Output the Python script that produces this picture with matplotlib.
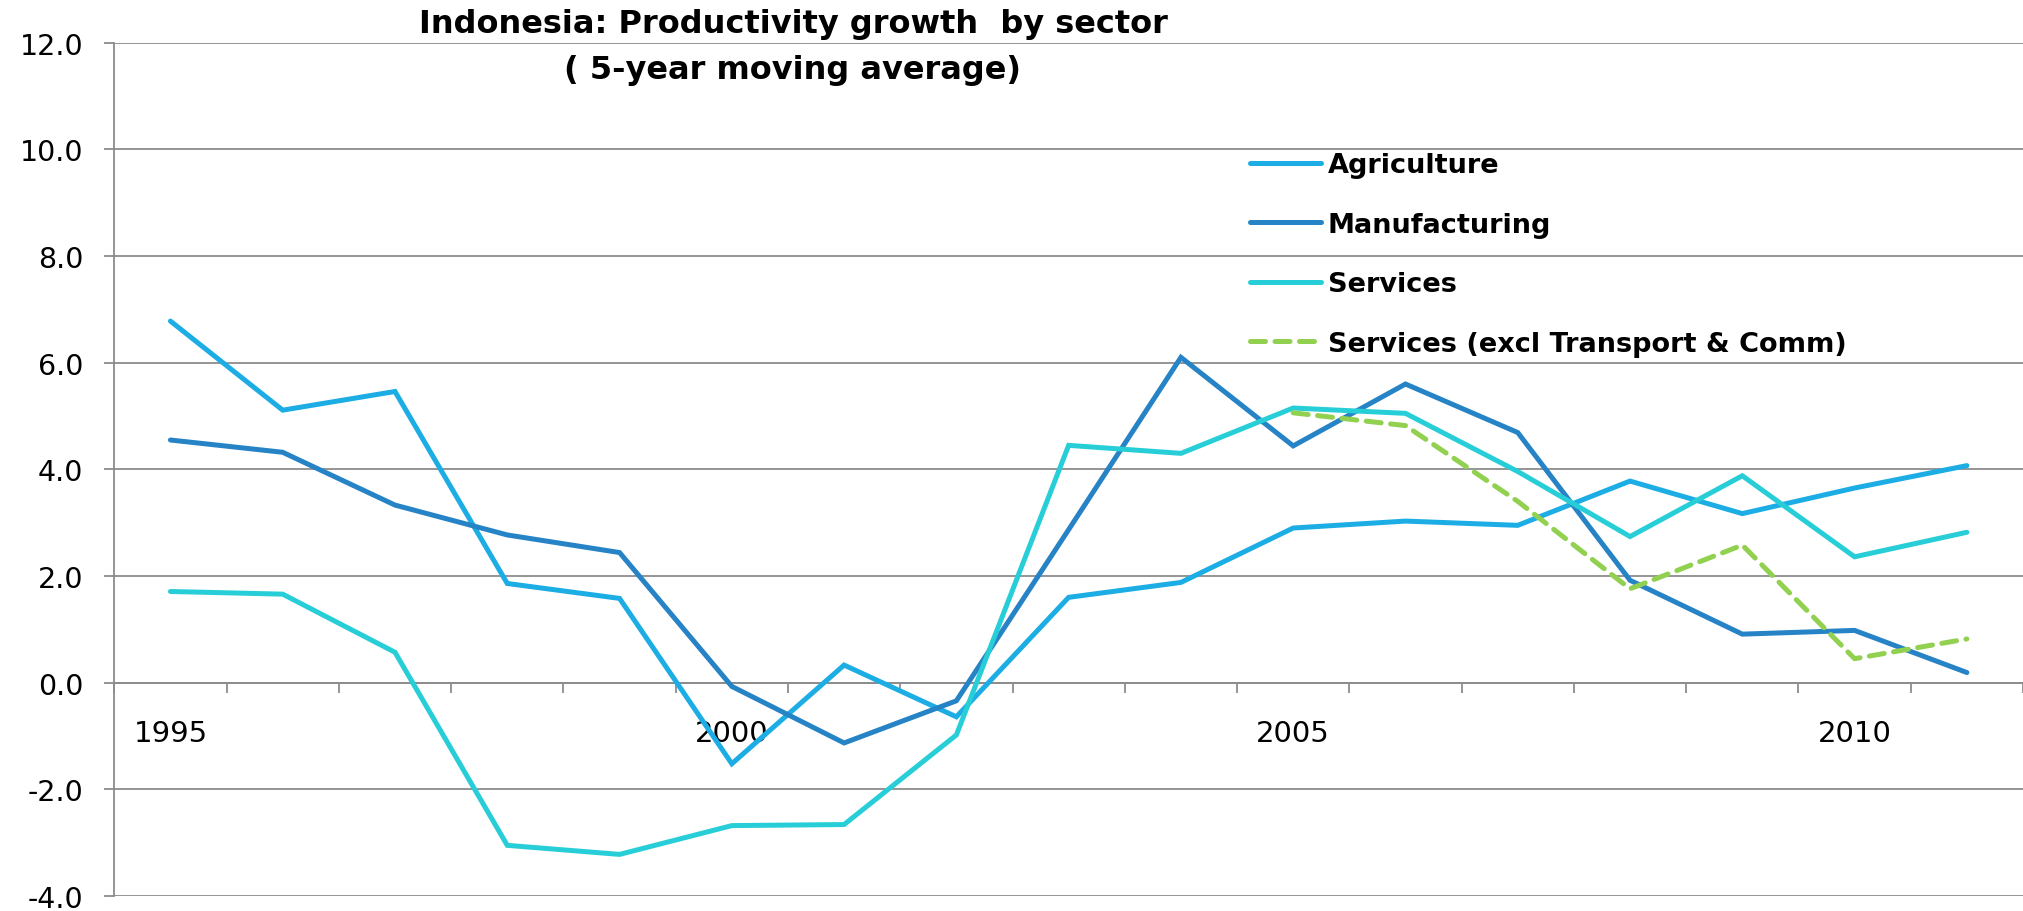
import numpy as np
import matplotlib
matplotlib.use("Agg")
import matplotlib.pyplot as plt
from matplotlib.ticker import FixedLocator, FuncFormatter, NullFormatter

# ---------------- data ----------------
years = list(range(1995, 2012))
agriculture = [6.78, 5.11, 5.46, 1.86, 1.58, -1.52, 0.33, -0.64, 1.60, 1.88,
               2.90, 3.03, 2.95, 3.78, 3.17, 3.65, 4.07]
manufacturing = [4.55, 4.32, 3.33, 2.77, 2.44, -0.07, -1.13, -0.34, 2.87, 6.10,
                 4.44, 5.60, 4.69, 1.92, 0.91, 0.98, 0.19]
services = [1.71, 1.66, 0.57, -3.05, -3.22, -2.68, -2.66, -0.98, 4.45, 4.30,
            5.15, 5.05, 3.96, 2.74, 3.88, 2.36, 2.82]
services_excl = [np.nan] * 10 + [5.06, 4.82, 3.40, 1.76, 2.58, 0.45, 0.82]

series_names = ["Agriculture", "Manufacturing", "Services",
                "Services (excl Transport & Comm)"]
series_colors = ["#1CADE4", "#2683C6", "#27CED7", "#92D050"]
labelled_years = [1995, 2000, 2005, 2010]
y_ticks = [-4, -2, 0, 2, 4, 6, 8, 10, 12]

title_lines = ["Indonesia: Productivity growth  by sector",
               "( 5-year moving average)"]

# ---------------- figure ----------------
W, H, DPI = 2023, 912, 100
fig = plt.figure(figsize=(W / DPI, H / DPI), dpi=DPI)
plt.rcParams["font.family"] = ["DejaVu Sans"]

ax = fig.add_axes([114.3 / W, 1 - 897 / H, 1 - 114.3 / W, (897 - 43.7) / H])

x = np.arange(len(years))
grid_col = "#8C8C8C"
lw = 3.6
series = [agriculture, manufacturing, services, services_excl]
handles = []
for i, (vals, name, col) in enumerate(zip(series, series_names, series_colors)):
    if i == 3:
        ln, = ax.plot(x, vals, color=col, lw=lw, linestyle=(0, (3.0, 1.9)),
                      dash_capstyle="round", solid_capstyle="round",
                      solid_joinstyle="miter", label=name, zorder=3 + i)
    else:
        ln, = ax.plot(x, vals, color=col, lw=lw, solid_capstyle="round",
                      solid_joinstyle="miter", label=name, zorder=3 + i)
    handles.append(ln)

ax.set_xlim(-0.5, len(years) - 0.5)
ax.set_ylim(y_ticks[0], y_ticks[-1])

# y axis
ax.yaxis.set_major_locator(FixedLocator(y_ticks))
ax.yaxis.set_major_formatter(FuncFormatter(lambda v, p: f"{v:.1f}"))
ax.grid(axis="y", color=grid_col, lw=1.3, zorder=1)
ax.tick_params(axis="y", which="major", direction="out", length=7.2,
               width=1.3, color=grid_col, pad=15, labelsize=20.5,
               labelcolor="black")

# x axis at zero
ax.spines["bottom"].set_position(("data", 0))
ax.spines["bottom"].set_color(grid_col)
ax.spines["bottom"].set_linewidth(1.3)
ax.spines["left"].set_color(grid_col)
ax.spines["left"].set_linewidth(1.3)
ax.spines["top"].set_visible(False)
ax.spines["right"].set_visible(False)

major_idx = [years.index(y) for y in labelled_years]
ax.xaxis.set_major_locator(FixedLocator(major_idx))
ax.set_xticklabels([str(y) for y in labelled_years])
ax.xaxis.set_minor_locator(FixedLocator(np.arange(-0.5, len(years), 1.0)))
ax.xaxis.set_minor_formatter(NullFormatter())
ax.tick_params(axis="x", which="major", length=0, pad=26, labelsize=21,
               labelcolor="black")
ax.tick_params(axis="x", which="minor", direction="out", length=7.2,
               width=1.3, color=grid_col)

# legend
leg = ax.legend(handles=handles, loc="upper left",
                bbox_to_anchor=(1250 / W, 1 - 153 / H),
                bbox_transform=fig.transFigure, frameon=False,
                borderpad=0, borderaxespad=0, handlelength=2.62,
                handletextpad=0.26, labelspacing=1.24,
                prop={"weight": "bold", "size": 19.5})

# title
fig.text(793 / W, 1 - 33 / H, title_lines[0], ha="center", va="baseline",
         fontsize=23, fontweight="bold", color="black")
fig.text(793 / W, 1 - 79 / H, title_lines[1], ha="center", va="baseline",
         fontsize=23, fontweight="bold", color="black")

fig.savefig("out.png", dpi=DPI, facecolor="white")
